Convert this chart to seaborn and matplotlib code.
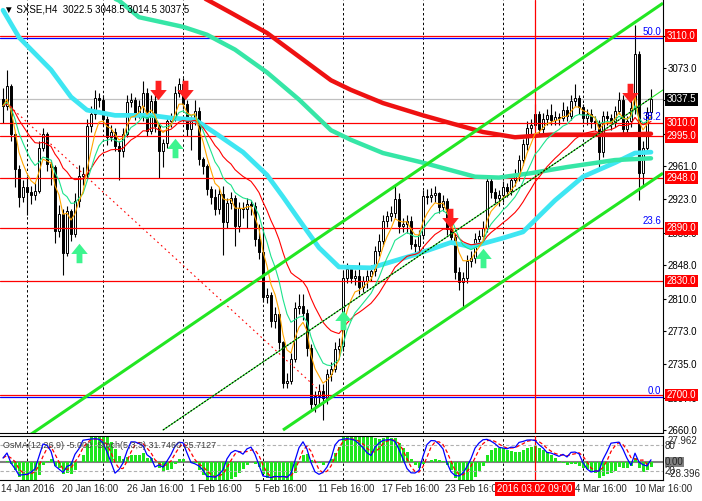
import numpy as np
import pandas as pd
import matplotlib
matplotlib.use("Agg")
import matplotlib.pyplot as plt
from matplotlib.path import Path
import seaborn as sns

# H4 candles (open = previous close)
first_open = 3038
closes = [3030, 3052, 2998, 2958, 2926, 2937, 2931, 2928, 2933, 2982,
          2998, 2963, 2960, 2887, 2907, 2862, 2910, 2884, 2921, 2950,
          2952, 3007, 3021, 3039, 3037, 3015, 2994, 3000, 2984, 2978,
          2998, 3034, 3037, 3021, 3030, 3045, 3001, 3035, 3007, 2978,
          2987, 3012, 3016, 3045, 3055, 3032, 3003, 3013, 3024, 2969,
          2961, 2935, 2926, 2912, 2929, 2897, 2919, 2925, 2893, 2913,
          2912, 2918, 2916, 2878, 2863, 2812, 2814, 2784, 2792, 2760,
          2714, 2716, 2741, 2799, 2802, 2794, 2754, 2690, 2699, 2705,
          2697, 2724, 2730, 2753, 2756, 2834, 2844, 2834, 2836, 2823,
          2830, 2836, 2841, 2864, 2876, 2899, 2904, 2908, 2924, 2893,
          2895, 2899, 2872, 2870, 2882, 2927, 2926, 2928, 2930, 2915,
          2921, 2889, 2880, 2840, 2829, 2834, 2853, 2856, 2878, 2881,
          2891, 2944, 2931, 2925, 2928, 2937, 2933, 2945, 2950, 2968,
          2986, 3005, 3008, 3021, 3003, 3015, 3019, 3014, 3017, 3016,
          3025, 3018, 3035, 3039, 3028, 3016, 3020, 3012, 3010, 2977,
          3018, 3016, 3010, 3024, 3037, 3003, 3012, 3027, 3089, 2953,
          2982, 3022.5, 3037.5]
highs = [3050, 3071, 3055, 3000, 2962, 2945, 2950, 2938, 2942, 2990,
         3005, 3000, 2968, 2962, 2917, 2912, 2916, 2912, 2930, 2962,
         2960, 3015, 3030, 3048, 3045, 3042, 3018, 3008, 3005, 2990,
         3004, 3042, 3045, 3040, 3036, 3058, 3050, 3042, 3045, 3010,
         2992, 3018, 3022, 3052, 3062, 3062, 3036, 3018, 3036, 3028,
         2972, 2964, 2938, 2935, 2936, 2938, 2925, 2932, 2928, 2920,
         2920, 2925, 2922, 2920, 2895, 2892, 2822, 2818, 2800, 2795,
         2762, 2725, 2748, 2806, 2815, 2815, 2798, 2758, 2705, 2712,
         2712, 2730, 2738, 2760, 2765, 2842, 2850, 2848, 2842, 2852,
         2836, 2842, 2848, 2870, 2884, 2905, 2910, 2916, 2940, 2930,
         2902, 2905, 2904, 2878, 2888, 2934, 2935, 2936, 2938, 2932,
         2928, 2925, 2892, 2884, 2846, 2840, 2860, 2864, 2885, 2888,
         2898, 2950, 2948, 2936, 2934, 2944, 2942, 2950, 2958, 2974,
         2992, 3012, 3015, 3032, 3024, 3022, 3026, 3032, 3024, 3022,
         3034, 3030, 3042, 3055, 3042, 3032, 3026, 3026, 3018, 3014,
         3024, 3024, 3020, 3030, 3046, 3042, 3018, 3036, 3122, 3092,
         2990, 3028, 3048.5]
lows = [3010, 3025, 2990, 2937, 2915, 2920, 2905, 2918, 2922, 2930,
        2978, 2955, 2940, 2873, 2880, 2837, 2858, 2876, 2880, 2915,
        2940, 2948, 3000, 3015, 3028, 3008, 2985, 2990, 2978, 2945,
        2972, 2994, 3028, 3014, 3016, 3012, 2996, 2998, 3000, 2948,
        2960, 2982, 3006, 3012, 3040, 3026, 2995, 2980, 3008, 2962,
        2952, 2928, 2918, 2905, 2906, 2860, 2890, 2912, 2870, 2886,
        2902, 2890, 2905, 2870, 2855, 2806, 2805, 2778, 2776, 2752,
        2708, 2708, 2712, 2738, 2792, 2786, 2745, 2682, 2680, 2690,
        2672, 2690, 2716, 2726, 2745, 2750, 2828, 2828, 2826, 2815,
        2818, 2822, 2830, 2836, 2858, 2870, 2892, 2898, 2902, 2885,
        2886, 2885, 2866, 2858, 2864, 2878, 2918, 2920, 2920, 2908,
        2910, 2882, 2872, 2832, 2820, 2798, 2828, 2846, 2850, 2870,
        2874, 2886, 2925, 2918, 2916, 2920, 2926, 2928, 2938, 2944,
        2962, 2980, 2998, 3002, 2996, 2998, 3008, 3008, 3008, 3008,
        3012, 3012, 3014, 3030, 3020, 3010, 3008, 3004, 3002, 2960,
        2972, 3008, 3002, 3006, 3020, 2998, 2998, 3006, 3020, 2922,
        2940, 2978, 3014.5]

# slow moving averages (bar index, price)
cyan_bars = [0, 4, 12, 17, 21, 28, 37, 42, 48, 53, 60, 66, 70, 74, 79, 84, 92,
             103, 112, 117, 125, 130, 138, 145, 153, 158, 162]
cyan_vals = [3139, 3108, 3071, 3040, 3025, 3019, 3019, 3016, 3014, 2999, 2977,
             2951, 2926, 2900, 2868, 2846, 2845, 2860, 2874, 2869, 2879, 2886,
             2922, 2949, 2965, 2976, 2977]
teal_bars = [24, 29, 34, 45, 51, 58, 66, 74, 82, 87, 95, 105, 118, 124, 132, 141, 153, 162]
teal_vals = [3160, 3150, 3131, 3120, 3111, 3094, 3068, 3037, 3002, 2991, 2976,
             2965, 2949, 2948, 2953, 2960, 2968, 2970]
redma_bars = [40, 51, 57, 66, 74, 82, 87, 95, 105, 112, 120, 128, 137, 145, 153, 162]
redma_vals = [3175, 3151, 3136, 3113, 3086, 3059, 3048, 3033, 3019, 3010, 3000,
              2994, 2997, 2997, 2997, 2998]

red_levels = [3110.0, 3010.0, 2995.0, 2948.0, 2890.0, 2830.0, 2700.0]
last_price = 3037.5
fib_levels = [3107.0, 3010.4, 2890.8, 2697.6]
fib_labels = ["50.0", "38.2", "23.6", "0.0"]

# channel rays and fibo base line: (bars, prices)
chan_upper = ([5, 165], [2649, 3147])
chan_mid = ([40, 165], [2660, 3048])
chan_lower = ([70, 165], [2660, 2953])
fib_base = ([1.75, 81.75], [3029, 2694])

sell_bars = [38.75, 45.5, 111.75, 156.75]
sell_prices = [3048, 3048, 2902, 3044]
buy_bars = [19, 43, 85, 120]
buy_prices = [2862, 2982, 2786, 2856]

price_ticks = [3110, 3073, 3036, 2998, 2961, 2923, 2885, 2848, 2810, 2773, 2735, 2697, 2660]
grid_bars = [6, 25, 45, 65, 85, 105, 125, 145]
date_bars = [-0.6, 14.75, 31, 46.75, 63, 78.75, 94.75, 110.5, 126.5, 143, 158]
date_labels = ["14 Jan 2016", "20 Jan 16:00", "26 Jan 16:00", "1 Feb 16:00",
               "5 Feb 16:00", "11 Feb 16:00", "17 Feb 16:00", "23 Feb 16:00",
               "29 Feb 16:00", "4 Mar 16:00", "10 Mar 16:00"]
cursor_bar = 133
cursor_label = "2016.03.02 09:00"

sns.set_style("white")
plt.rcParams["font.family"] = ["Liberation Sans", "DejaVu Sans"]
plt.rcParams["font.size"] = 7

W, H = 702, 501
fig = plt.figure(figsize=(W / 100, H / 100), dpi=100, facecolor="white")
ax = fig.add_axes([0, 1 - 433 / H, 663 / W, 433 / H])
ax2 = fig.add_axes([0, 1 - 480 / H, 663 / W, 44 / H])
ax3 = ax2.twinx()

def px(x, y):
    return x / W, 1 - y / H

n = len(closes)
df = pd.DataFrame({"bar": np.arange(n), "open": [first_open] + closes[:-1],
                   "high": highs, "low": lows, "close": closes})

# candles
up = df.close >= df.open
body_lo = np.minimum(df.open, df.close)
body_h = np.maximum((df.close - df.open).abs(), 0.8)
ax.vlines(df.bar, df.low, df.high, color="black", lw=0.8, zorder=2)
ax.bar(df.bar, body_h, bottom=body_lo, width=0.72,
       color=np.where(up, "white", "black"), edgecolor="black", linewidth=0.7, zorder=2.1)

# horizontal levels
for p in red_levels:
    ax.axhline(p, color="#ff0000", lw=0.9, zorder=2.5)
ax.axhline(last_price, color="#c0c0c0", lw=0.9, zorder=1.5)
for p in (fib_levels[0], fib_levels[-1]):
    ax.axhline(p, color="#0000ff", lw=0.9, zorder=2.4)
for p, lab in zip(fib_levels, fib_labels):
    ax.text(164.6, p + 1.5, lab, color="#0000ff", ha="right", va="bottom", fontsize=7, zorder=6)

for b in grid_bars:
    for a in (ax, ax2):
        a.axvline(b, color="black", lw=0.7, ls=(0, (2.5, 2.5)), zorder=1)
ax.axvline(cursor_bar, color="#ff0000", lw=0.9, zorder=2.5)
ax2.axvline(cursor_bar, color="#ff0000", lw=0.9, zorder=3)

# slow MAs
sns.lineplot(x=cyan_bars, y=cyan_vals, ax=ax, color="#3ee6f2", lw=3.4, zorder=3)
sns.lineplot(x=teal_bars, y=teal_vals, ax=ax, color="#36e6a6", lw=3.2, zorder=3)
sns.lineplot(x=redma_bars, y=redma_vals, ax=ax, color="#ee1111", lw=3.2, zorder=3)

# fast MAs
for span, col in [(21, "#ff0000"), (10, "#1de38c"), (5, "#ffa500")]:
    sns.lineplot(x=df.bar, y=df.close.ewm(span=span, adjust=False).mean(), ax=ax,
                 color=col, lw=0.8, zorder=3.5)

# channel and fibo base
for xs, ys in (chan_upper, chan_lower):
    ax.plot(xs, ys, color="#22e622", lw=2.2, zorder=4, solid_capstyle="butt")
ax.plot(*chan_mid, color="#22e622", lw=0.8, zorder=4)
ax.plot([chan_mid[0][0], 162], [chan_mid[1][0], chan_mid[1][0] + (162 - 40) * (3048 - 2660) / 125],
        color="black", lw=0.8, ls=(0, (1.5, 1.5)), zorder=4.1)
ax.plot(*fib_base, color="#ff0000", lw=0.8, ls=(0, (1.5, 3)), zorder=3.6)

# arrows
codes = [Path.MOVETO] + [Path.LINETO] * 6 + [Path.CLOSEPOLY]
dn_verts = [(-0.3, 1.0), (0.3, 1.0), (0.3, 0.05), (0.85, 0.05), (0.0, -1.0),
            (-0.85, 0.05), (-0.3, 0.05), (-0.3, 1.0)]
down_arrow = Path(dn_verts, codes)
up_arrow = Path([(x, -y) for x, y in dn_verts], codes)
ax.plot(sell_bars, sell_prices, ls="none", marker=down_arrow, markersize=14,
        color="#ff2020", markeredgewidth=0, zorder=6)
ax.plot(buy_bars, buy_prices, ls="none", marker=up_arrow, markersize=14,
        color="#3df58f", markeredgewidth=0, zorder=6)

ax.set_xlim(-0.75, 165)
ax.set_ylim(2656.6, 3150.6)
ax.set(xlabel="", ylabel="")
ax.set_xticks([])
ax.yaxis.tick_right()
ax.set_yticks(price_ticks)
ax.set_yticklabels([f"{t:.1f}" for t in price_ticks])
ax.tick_params(axis="y", length=2, width=0.8, pad=1.5, labelsize=7, colors="black")
for s in ("left", "top"):
    ax.spines[s].set_visible(False)
for s in ("right", "bottom"):
    ax.spines[s].set_color("black")
    ax.spines[s].set_linewidth(0.8)

for p in red_levels:
    ax.annotate(f"{p:.1f}", xy=(1, p), xycoords=("axes fraction", "data"), xytext=(2.6, 0),
                textcoords="offset points", ha="left", va="center", color="white", fontsize=7,
                bbox=dict(boxstyle="square,pad=0.15", fc="#ff0000", ec="none"),
                annotation_clip=False, zorder=10)
ax.annotate(f"{last_price:.1f}", xy=(1, last_price), xycoords=("axes fraction", "data"),
            xytext=(2.6, 0), textcoords="offset points", ha="left", va="center", color="white",
            fontsize=7, bbox=dict(boxstyle="square,pad=0.15", fc="black", ec="none"),
            annotation_clip=False, zorder=10)

fig.text(*px(4, 9), "\u25bc SXSE,H4  3022.5 3048.5 3014.5 3037.5", fontsize=7, va="center", color="black")

# oscillator panel
cs = df.close
macd = cs.ewm(span=12, adjust=False).mean() - cs.ewm(span=26, adjust=False).mean()
osma = macd - macd.rolling(9, min_periods=1).mean()
hh = df.high.rolling(5, min_periods=1).max()
ll = df.low.rolling(5, min_periods=1).min()
stoch_k = (cs - ll).rolling(3, min_periods=1).sum() / (hh - ll).rolling(3, min_periods=1).sum() * 100
stoch_d = stoch_k.rolling(3, min_periods=1).mean()

ax2.bar(df.bar, osma, width=0.75, color="#1ee61e", linewidth=0, zorder=2)
ax2.axhline(0, color="#808080", lw=1.5, zorder=1.5)
ax2.set_ylim(-11.5, 16.6)
ax2.set_xlim(-0.75, 165)
ax3.axhline(80, color="#b0b0b0", lw=0.8, ls=(0, (3, 2)))
ax3.axhline(20, color="#b0b0b0", lw=0.8, ls=(0, (3, 2)))
sns.lineplot(x=df.bar, y=stoch_d, ax=ax3, color="#ff0000", lw=0.9, linestyle=(0, (3, 2)))
sns.lineplot(x=df.bar, y=stoch_k, ax=ax3, color="#0000ff", lw=0.9)
ax3.set_ylim(0, 100)
ax3.set_xlim(-0.75, 165)
for a in (ax2, ax3):
    a.set(xlabel="", ylabel="")
    a.set_xticks([])
    a.set_yticks([])
for s in ax3.spines.values():
    s.set_visible(False)
ax2.spines["left"].set_visible(False)
for s in ("right", "top", "bottom"):
    ax2.spines[s].set_color("black")
    ax2.spines[s].set_linewidth(0.8)

fig.text(*px(3, 445), "OsMA(12,26,9) -5.000  Stoch(5,3,3) 31.7460 25.7127", fontsize=6.5,
         va="center", color="#404040")
fig.text(*px(668, 441), "27.962", fontsize=7, va="center")
fig.text(*px(665, 446), "80", fontsize=7, va="center")
fig.text(*px(665, 462), "0.00", fontsize=7, va="center",
         bbox=dict(boxstyle="square,pad=0.05", fc="#808080", ec="none"))
fig.text(*px(665, 471), "20", fontsize=7, va="center")
fig.text(*px(668, 474), "-28.396", fontsize=7, va="center")

for b, lab in zip(date_bars, date_labels):
    ax2.annotate(lab, xy=(b, 0), xycoords=("data", "axes fraction"), xytext=(0, -6.5),
                 textcoords="offset points", ha="left", va="center", fontsize=7,
                 annotation_clip=False)
ax2.annotate(cursor_label, xy=(cursor_bar, 0), xycoords=("data", "axes fraction"),
             xytext=(0, -6.5), textcoords="offset points", ha="center", va="center",
             fontsize=7, color="white", annotation_clip=False, zorder=10,
             bbox=dict(boxstyle="square,pad=0.2", fc="#ff0000", ec="none"))

fig.savefig("out.png", dpi=100)
